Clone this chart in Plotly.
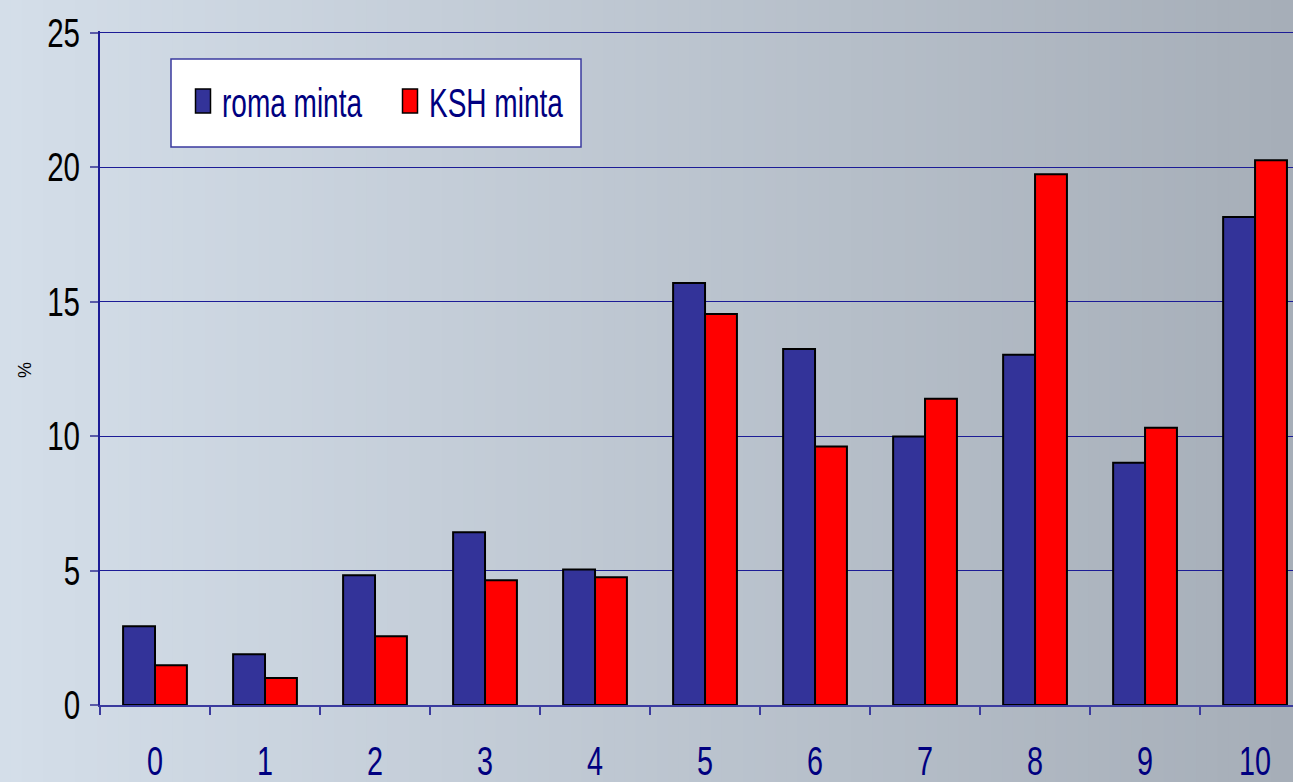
import plotly.graph_objects as go

categories = ["0", "1", "2", "3", "4", "5", "6", "7", "8", "9", "10"]
roma_minta = [2.93, 1.89, 4.82, 6.42, 5.04, 15.69, 13.24, 9.98, 13.02, 9.01, 18.14]
ksh_minta = [1.48, 1.00, 2.56, 4.64, 4.75, 14.54, 9.61, 11.39, 19.73, 10.31, 20.25]
y_ticks = [0, 5, 10, 15, 20, 25]

W, H = 1293, 782
ML, MR, MT, MB = 100, 0, 31, 77
pw = W - ML - MR
ph = H - MT - MB

NAVY = "#1c1c96"
FONT = "Liberation Sans, Arial, sans-serif"

fig = go.Figure()
fig.add_trace(go.Bar(x=categories, y=roma_minta, name="roma minta",
                     marker=dict(color="#333399", line=dict(color="black", width=2))))
fig.add_trace(go.Bar(x=categories, y=ksh_minta, name="KSH minta",
                     marker=dict(color="#ff0000", line=dict(color="black", width=2))))

# background horizontal gradient
shapes = []
N = 120
c0 = (212, 222, 233)
c1 = (166, 174, 184)
for i in range(N):
    t = i / (N - 1)
    c = tuple(round(c0[k] + (c1[k] - c0[k]) * t) for k in range(3))
    shapes.append(dict(type="rect", xref="paper", yref="paper",
                       x0=(i / N * W - ML) / pw, x1=((i + 1) / N * W - ML) / pw + 0.001,
                       y0=-MB / ph - 0.01, y1=1 + MT / ph + 0.01,
                       fillcolor="rgb(%d,%d,%d)" % c, line=dict(width=0), layer="below"))

# legend box
lx0, lx1, ly0, ly1 = 171, 581, 59, 147
shapes.append(dict(type="rect", xref="paper", yref="paper",
                   x0=(lx0 - ML) / pw, x1=(lx1 - ML) / pw,
                   y0=(H - MB - ly1) / ph, y1=(H - MB - ly0) / ph,
                   fillcolor="white", line=dict(color="#3a3a9e", width=1.5), layer="below"))

fig.update_layout(
    width=W, height=H,
    margin=dict(l=ML, r=MR, t=MT, b=MB, pad=0, autoexpand=False),
    paper_bgcolor="#c0c9d3",
    plot_bgcolor="rgba(0,0,0,0)",
    barmode="group",
    bargap=0.42,
    bargroupgap=0,
    shapes=shapes,
    showlegend=True,
    legend=dict(orientation="h", x=(182 - ML) / pw, y=(H - MB - 101) / ph,
                xanchor="left", yanchor="middle",
                bgcolor="rgba(0,0,0,0)", borderwidth=0,
                font=dict(family=FONT, size=40, color="#000080"),
                itemwidth=30, entrywidth=162, traceorder="normal"),
    xaxis=dict(type="category", range=[-0.5, 10.345], automargin=False,
               showgrid=False, showline=True, linecolor="#3a3a9e", linewidth=1.5,
               ticks="outside", ticklen=8, tickcolor="#3a3a9e", tickwidth=1.5,
               tickson="boundaries",
               tickfont=dict(family=FONT, size=40, color="#000080"),
               ticklabelstandoff=20),
    yaxis=dict(range=[0, 25.06], tickvals=y_ticks, automargin=False,
               showgrid=True, gridcolor=NAVY, gridwidth=1,
               showline=True, linecolor=NAVY, linewidth=1.5,
               ticks="outside", ticklen=8, tickcolor="#5a5aa8", tickwidth=1.5,
               tickfont=dict(family=FONT, size=41, color="black"),
               ticklabelstandoff=2, zeroline=False),
    annotations=[dict(text="%", xref="paper", yref="paper",
                      x=(25 - ML) / pw, y=(H - MB - 370) / ph,
                      xanchor="center", yanchor="middle",
                      showarrow=False, textangle=-90,
                      font=dict(family=FONT, size=18, color="black"))],
)

post = """
document.body.style.margin='0';
document.body.style.overflow='hidden';
var gd=document.getElementById('{plot_id}');
gd.querySelectorAll('.xtick text, .ytick text').forEach(function(t){
  var L=t.getComputedTextLength();
  t.setAttribute('textLength', L*0.72);
  t.setAttribute('lengthAdjust','spacingAndGlyphs');
});
gd.querySelectorAll('.legendtext').forEach(function(t){
  var L=t.getComputedTextLength();
  t.setAttribute('textLength', L*0.70);
  t.setAttribute('lengthAdjust','spacingAndGlyphs');
});
gd.querySelectorAll('.legendpoints path').forEach(function(p){
  p.removeAttribute('transform');
  p.setAttribute('d','M28.5,12H13.5V-12H28.5Z');
  p.style.strokeWidth='1.5px';
  p.style.stroke='black';
});
"""

fig.write_html("out.html", post_script=post, config={"displayModeBar": False})
